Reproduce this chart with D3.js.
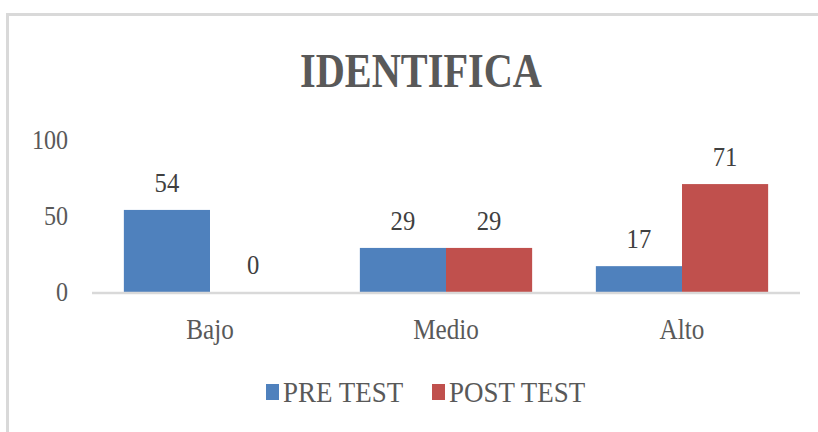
<!DOCTYPE html>
<html><head><meta charset="utf-8">
<script src="https://cdn.jsdelivr.net/npm/d3@7"></script>
<style>html,body{margin:0;padding:0;background:#fff;}svg{display:block;}</style>
</head><body>
<script>
const categories = ["Bajo", "Medio", "Alto"];
const seriesNames = ["PRE TEST", "POST TEST"];
const preTest = [54, 29, 17];
const postTest = [0, 29, 71];
const yTicks = [0, 50, 100];
const title = "IDENTIFICA";
const colors = ["#4F81BD", "#C0504D"];

const W = 818, H = 432;
const svg = d3.select("body").append("svg").attr("width", W).attr("height", H);
svg.append("rect").attr("x",0).attr("y",0).attr("width",W).attr("height",H).attr("fill","#fff");
svg.append("rect").attr("x",7.5).attr("y",14.5).attr("width",830).attr("height",450)
  .attr("fill","#fff").attr("stroke","#D9D9D9").attr("stroke-width",3);

const font = '"Liberation Serif", "Times New Roman", Tinos, serif';
function txt(x, y, s, size, color, anchor, weight, sx) {
  return svg.append("text")
    .attr("transform", `translate(${x},${y}) scale(${sx},1)`)
    .attr("text-anchor", anchor || "middle")
    .style("font-family", font).style("font-size", size + "px")
    .style("font-weight", weight || "normal")
    .attr("fill", color).text(s);
}

const plotL = 92, plotR = 800, plotT = 140, plotB = 292;
const x = d3.scaleBand().domain(categories).range([plotL, plotR]).paddingInner(0.27).paddingOuter(0.135);
const xs = d3.scaleBand().domain(seriesNames).range([0, x.bandwidth()]);
const y = d3.scaleLinear().domain([0, 100]).range([plotB, plotT]);

txt(421, 87, title, 48, "#595959", "middle", "bold", 0.84);

yTicks.forEach(t => txt(68, y(t) + 9, String(t), 28, "#595959", "end", "normal", 0.86));

const data = categories.map((c, i) => ({cat: c, vals: [preTest[i], postTest[i]]}));
const g = svg.append("g");
data.forEach(d => {
  d.vals.forEach((v, k) => {
    const bx = x(d.cat) + xs(seriesNames[k]);
    g.append("rect").attr("x", bx).attr("y", y(v)).attr("width", xs.bandwidth())
      .attr("height", y(0) - y(v)).attr("fill", colors[k]);
    txt(bx + xs.bandwidth()/2, y(v) - 18, String(v), 28, "#404040", "middle", "normal", 0.88);
  });
});

svg.append("line").attr("x1", plotL).attr("x2", plotR).attr("y1", plotB+1).attr("y2", plotB+1)
  .attr("stroke", "#D9D9D9").attr("stroke-width", 2.5);

categories.forEach(c => txt(x(c) + x.bandwidth()/2, 339, c, 30, "#595959", "middle", "normal", 0.84));

// legend
const legItems = [{x: 266, name: seriesNames[0], c: colors[0]}, {x: 432, name: seriesNames[1], c: colors[1]}];
legItems.forEach(l => {
  svg.append("rect").attr("x", l.x).attr("y", 384).attr("width", 13).attr("height", 16).attr("fill", l.c);
  txt(l.x + 17, 402, l.name, 29, "#595959", "start", "normal", 0.93);
});
</script>
</body></html>
